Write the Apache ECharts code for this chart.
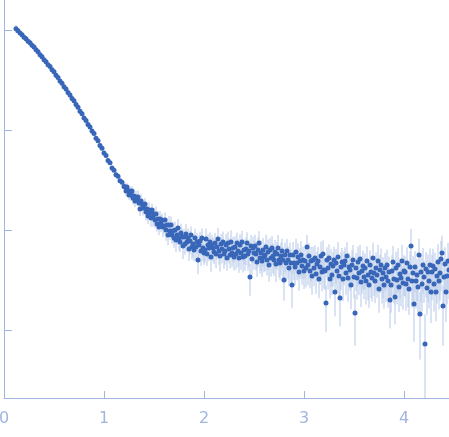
<!DOCTYPE html>
<html>
<head>
<meta charset="utf-8">
<script src="https://cdn.jsdelivr.net/npm/echarts@6/dist/echarts.min.js"></script>
<style>
  html, body { margin: 0; padding: 0; background: #fff; }
  #chart { width: 449px; height: 437px; }
</style>
</head>
<body>
<div id="chart"></div>
<script>
// scattering vector q
var q = [
  0.12,0.14,0.16,0.18,0.20,0.22,0.24,0.26,0.28,0.30,
  0.32,0.34,0.36,0.38,0.40,0.42,0.44,0.46,0.48,0.50,
  0.52,0.54,0.56,0.58,0.60,0.62,0.64,0.66,0.68,0.70,
  0.72,0.74,0.76,0.78,0.80,0.82,0.84,0.86,0.88,0.90,
  0.92,0.94,0.96,0.98,1.00,1.02,1.04,1.06,1.08,1.10,
  1.12,1.14,1.16,1.18,1.20,
  1.21,1.22,1.23,1.24,1.25,1.26,1.27,1.28,1.29,1.30,
  1.31,1.32,1.33,1.34,1.35,1.36,1.37,1.38,1.39,1.40,
  1.41,1.42,1.43,1.44,1.45,1.46,1.47,1.48,1.49,1.50,
  1.51,1.52,1.53,1.54,1.55,1.56,1.57,1.58,1.59,1.60,
  1.61,1.62,1.63,1.64,1.65,1.66,1.67,1.68,1.69,1.70,
  1.71,1.72,1.73,1.74,1.75,1.76,1.77,1.78,1.79,1.80,
  1.81,1.82,1.83,1.84,1.85,1.86,1.87,1.88,1.89,1.90,
  1.91,1.92,1.93,1.94,1.95,1.96,1.97,1.98,1.99,2.00,
  2.01,2.02,2.03,2.04,2.05,2.06,2.07,2.08,2.09,2.10,
  2.11,2.12,2.13,2.14,2.15,2.16,2.17,2.18,2.19,2.20,
  2.21,2.22,2.23,2.24,2.25,2.26,2.27,2.28,2.29,2.30,
  2.31,2.32,2.33,2.34,2.35,2.36,2.37,2.38,2.39,2.40,
  2.41,2.42,2.43,2.44,2.45,2.46,2.47,2.48,2.49,2.50,
  2.51,2.52,2.53,2.54,2.55,2.56,2.57,2.58,2.59,2.60,
  2.61,2.62,2.63,2.64,2.65,2.66,2.67,2.68,2.69,2.70,
  2.71,2.72,2.73,2.74,2.75,2.76,2.77,2.78,2.79,2.80,
  2.81,2.82,2.83,2.84,2.85,2.86,2.87,2.88,2.89,2.90,
  2.91,2.92,2.93,2.94,2.95,2.96,2.97,2.98,2.99,3.00,
  3.01,3.02,3.03,3.04,3.05,3.06,3.07,3.08,3.09,3.10,
  3.11,3.12,3.13,3.14,3.15,3.16,3.17,3.18,3.19,3.20,
  3.21,3.22,3.23,3.24,3.25,3.26,3.27,3.28,3.29,3.30,
  3.31,3.32,3.33,3.34,3.35,3.36,3.37,3.38,3.39,3.40,
  3.41,3.42,3.43,3.44,3.45,3.46,3.47,3.48,3.49,3.50,
  3.51,3.52,3.53,3.54,3.55,3.56,3.57,3.58,3.59,3.60,
  3.61,3.62,3.63,3.64,3.65,3.66,3.67,3.68,3.69,3.70,
  3.71,3.72,3.73,3.74,3.75,3.76,3.77,3.78,3.79,3.80,
  3.81,3.82,3.83,3.84,3.85,3.86,3.87,3.88,3.89,3.90,
  3.91,3.92,3.93,3.94,3.95,3.96,3.97,3.98,3.99,4.00,
  4.01,4.02,4.03,4.04,4.05,4.06,4.07,4.08,4.09,4.10,
  4.11,4.12,4.13,4.14,4.15,4.16,4.17,4.18,4.19,4.20,
  4.21,4.22,4.23,4.24,4.25,4.26,4.27,4.28,4.29,4.30,
  4.31,4.32,4.33,4.34,4.35,4.36,4.37,4.38,4.39,4.40,
  4.41,4.42,4.43,4.44,4.45
];

// log10 of the intensity
var logI = [
  0.012,-0.008,-0.031,-0.047,-0.072,-0.088,-0.113,-0.128,-0.152,-0.169,
  -0.197,-0.218,-0.248,-0.268,-0.297,-0.318,-0.347,-0.366,-0.398,-0.418,
  -0.452,-0.475,-0.509,-0.533,-0.568,-0.591,-0.626,-0.649,-0.684,-0.707,
  -0.746,-0.772,-0.812,-0.838,-0.879,-0.904,-0.945,-0.969,-1.011,-1.036,
  -1.082,-1.108,-1.156,-1.183,-1.231,-1.255,-1.306,-1.328,-1.381,-1.402,
  -1.447,-1.463,-1.508,-1.522,-1.566,
  -1.57,-1.61,-1.57,-1.61,-1.65,-1.61,-1.65,-1.61,-1.68,-1.66,
  -1.71,-1.67,-1.70,-1.67,-1.73,-1.79,-1.71,-1.74,-1.78,-1.75,
  -1.74,-1.82,-1.79,-1.86,-1.80,-1.83,-1.88,-1.80,-1.87,-1.84,
  -1.90,-1.84,-1.94,-1.89,-1.97,-1.89,-1.93,-1.90,-1.97,-1.96,
  -1.90,-2.00,-1.95,-2.05,-1.95,-2.01,-1.95,-2.05,-2.01,-2.08,
  -2.00,-2.10,-2.05,-1.98,-2.08,-2.12,-2.03,-2.07,-2.16,-2.07,
  -2.14,-2.04,-2.12,-2.08,-2.19,-2.11,-2.05,-2.17,-2.14,-2.20,
  -2.08,-2.17,-2.12,-2.30,-2.15,-2.11,-2.21,-2.08,-2.18,-2.23,
  -2.20,-2.09,-2.24,-2.15,-2.18,-2.12,-2.27,-2.15,-2.18,-2.22,
  -2.13,-2.24,-2.17,-2.09,-2.21,-2.26,-2.14,-2.19,-2.12,-2.24,
  -2.21,-2.15,-2.28,-2.13,-2.19,-2.25,-2.12,-2.23,-2.18,-2.27,
  -2.17,-2.24,-2.13,-2.21,-2.28,-2.15,-2.23,-2.12,-2.27,-2.20,
  -2.26,-2.19,-2.13,-2.24,-2.21,-2.47,-2.16,-2.29,-2.18,-2.23,
  -2.16,-2.24,-2.32,-2.20,-2.13,-2.28,-2.23,-2.31,-2.20,-2.27,
  -2.25,-2.17,-2.30,-2.22,-2.35,-2.20,-2.28,-2.18,-2.26,-2.30,
  -2.22,-2.34,-2.24,-2.18,-2.30,-2.33,-2.26,-2.21,-2.30,-2.50,
  -2.25,-2.33,-2.21,-2.30,-2.38,-2.25,-2.33,-2.55,-2.25,-2.33,
  -2.37,-2.22,-2.33,-2.27,-2.42,-2.31,-2.25,-2.36,-2.30,-2.41,
  -2.31,-2.38,-2.17,-2.35,-2.26,-2.41,-2.31,-2.46,-2.30,-2.38,
  -2.28,-2.44,-2.34,-2.31,-2.49,-2.37,-2.26,-2.42,-2.24,-2.40,
  -2.41,-2.73,-2.30,-2.38,-2.28,-2.49,-2.34,-2.45,-2.36,-2.30,
  -2.62,-2.33,-2.41,-2.27,-2.46,-2.68,-2.37,-2.32,-2.49,-2.35,
  -2.31,-2.43,-2.26,-2.48,-2.37,-2.40,-2.55,-2.35,-2.30,-2.47,
  -2.83,-2.38,-2.48,-2.32,-2.43,-2.29,-2.52,-2.41,-2.36,-2.47,
  -2.38,-2.51,-2.31,-2.45,-2.55,-2.35,-2.42,-2.48,-2.28,-2.43,
  -2.51,-2.38,-2.45,-2.31,-2.59,-2.40,-2.35,-2.49,-2.43,-2.55,
  -2.38,-2.47,-2.35,-2.51,-2.42,-2.70,-2.55,-2.41,-2.32,-2.49,
  -2.67,-2.38,-2.50,-2.35,-2.57,-2.44,-2.48,-2.31,-2.53,-2.41,
  -2.42,-2.54,-2.33,-2.49,-2.59,-2.37,-2.16,-2.51,-2.43,-2.74,
  -2.37,-2.51,-2.45,-2.57,-2.25,-2.84,-2.42,-2.54,-2.35,-2.47,
  -3.14,-2.39,-2.58,-2.42,-2.51,-2.35,-2.62,-2.42,-2.36,-2.54,
  -2.39,-2.62,-2.46,-2.32,-2.51,-2.43,-2.29,-2.23,-2.76,-2.47,
  -2.34,-2.62,-2.46,-2.31,-2.40
];

// relative error sigma / I
var relErr = [
  .09,.05,.03,.022,.02,.018,.021,.02,.019,.02,
  .021,.019,.02,.022,.02,.018,.021,.02,.019,.021,
  .02,.022,.019,.021,.02,.023,.02,.021,.022,.02,
  .023,.021,.024,.022,.025,.023,.026,.024,.028,.03,
  .029,.032,.03,.033,.031,.035,.036,.038,.037,.04,
  .045,.05,.048,.055,.06,
  .10,.12,.09,.13,.11,.10,.13,.12,.14,.11,
  .13,.15,.12,.16,.13,.15,.17,.13,.16,.14,
  .15,.18,.14,.17,.19,.15,.18,.16,.20,.15,
  .17,.19,.16,.21,.17,.20,.19,.16,.21,.18,
  .19,.22,.18,.21,.23,.19,.22,.18,.24,.20,
  .21,.24,.20,.23,.25,.21,.24,.22,.26,.21,
  .22,.26,.21,.25,.24,.27,.22,.25,.26,.23,
  .24,.27,.23,.28,.25,.24,.29,.25,.27,.24,
  .25,.27,.24,.28,.26,.25,.29,.26,.27,.24,
  .26,.28,.25,.29,.27,.30,.26,.28,.27,.29,
  .27,.29,.26,.30,.28,.27,.31,.28,.29,.27,
  .28,.30,.27,.31,.29,.28,.32,.29,.30,.28,
  .29,.31,.28,.32,.30,.35,.29,.31,.30,.32,
  .30,.32,.29,.33,.31,.30,.34,.31,.32,.30,
  .31,.33,.30,.34,.32,.31,.35,.32,.33,.31,
  .32,.34,.31,.35,.33,.32,.36,.33,.34,.38,
  .33,.35,.32,.36,.34,.33,.37,.41,.35,.33,
  .34,.36,.33,.37,.35,.34,.38,.35,.36,.34,
  .33,.36,.32,.37,.34,.33,.38,.35,.36,.34,
  .34,.37,.33,.38,.36,.34,.39,.36,.37,.35,
  .35,.49,.34,.39,.37,.36,.40,.37,.38,.36,
  .43,.38,.36,.41,.39,.48,.41,.38,.40,.37,
  .37,.40,.38,.42,.39,.38,.43,.40,.41,.39,
  .53,.41,.39,.43,.40,.39,.44,.41,.42,.40,
  .39,.42,.40,.44,.41,.40,.45,.42,.43,.41,
  .40,.43,.41,.45,.42,.41,.46,.43,.44,.42,
  .41,.44,.42,.46,.43,.48,.47,.44,.45,.43,
  .47,.45,.43,.47,.44,.43,.48,.45,.46,.44,
  .43,.46,.44,.48,.45,.44,.49,.46,.47,.58,
  .44,.47,.45,.49,.46,.65,.50,.47,.48,.45,
  .98,.48,.46,.50,.47,.46,.51,.48,.49,.47,
  .46,.49,.47,.51,.48,.47,.52,.49,.60,.48,
  .47,.50,.48,.52,.49
];

var xTicks = [0, 1, 2, 3, 4];
var yTicks = [-3, -2, -1, 0];

var yMin = -3.68;
var yMax = 0.30;

var axisColor = '#a1b5df';

var points = [];
var bars = [];
for (var i = 0; i < q.length; i++) {
    points.push([q[i], logI[i]]);
    var hi = logI[i] + Math.log10(1 + relErr[i]);
    var lo = relErr[i] < 0.99 ? logI[i] + Math.log10(1 - relErr[i]) : yMin;
    bars.push([q[i], Math.max(lo, yMin), hi]);
}

var chart = echarts.init(document.getElementById('chart'), null, { renderer: 'canvas' });

var option = {
    animation: false,
    grid: {
        left: 4,
        right: 0,
        top: 0,
        bottom: 39,
        containLabel: false,
        outerBoundsMode: 'none'
    },
    xAxis: {
        type: 'value',
        min: 0,
        max: 4.45,
        splitLine: { show: false },
        axisLine: { show: true, onZero: false, lineStyle: { color: axisColor, width: 1 } },
        axisTick: {
            show: true,
            inside: true,
            length: 7,
            customValues: xTicks,
            lineStyle: { color: axisColor }
        },
        axisLabel: {
            customValues: xTicks,
            color: axisColor,
            fontSize: 16,
            fontFamily: 'DejaVu Sans',
            margin: 13
        }
    },
    yAxis: {
        type: 'value',
        min: yMin,
        max: yMax,
        splitLine: { show: false },
        axisLine: { show: true, onZero: false, lineStyle: { color: axisColor, width: 1 } },
        axisTick: {
            show: true,
            inside: true,
            length: 8,
            customValues: yTicks,
            lineStyle: { color: axisColor }
        },
        axisLabel: { show: false }
    },
    series: [
        {
            type: 'custom',
            clip: true,
            silent: true,
            data: bars,
            renderItem: function (params, api) {
                var top = api.coord([api.value(0), api.value(2)]);
                var bottom = api.coord([api.value(0), api.value(1)]);
                return {
                    type: 'line',
                    shape: { x1: top[0], y1: top[1], x2: bottom[0], y2: bottom[1] },
                    style: { stroke: '#b6c8e8', lineWidth: 1 }
                };
            }
        },
        {
            type: 'scatter',
            data: points,
            symbol: 'circle',
            symbolSize: 5,
            silent: true,
            itemStyle: { color: '#3866b8', opacity: 1 }
        }
    ]
};

option && chart.setOption(option);
</script>
</body>
</html>
